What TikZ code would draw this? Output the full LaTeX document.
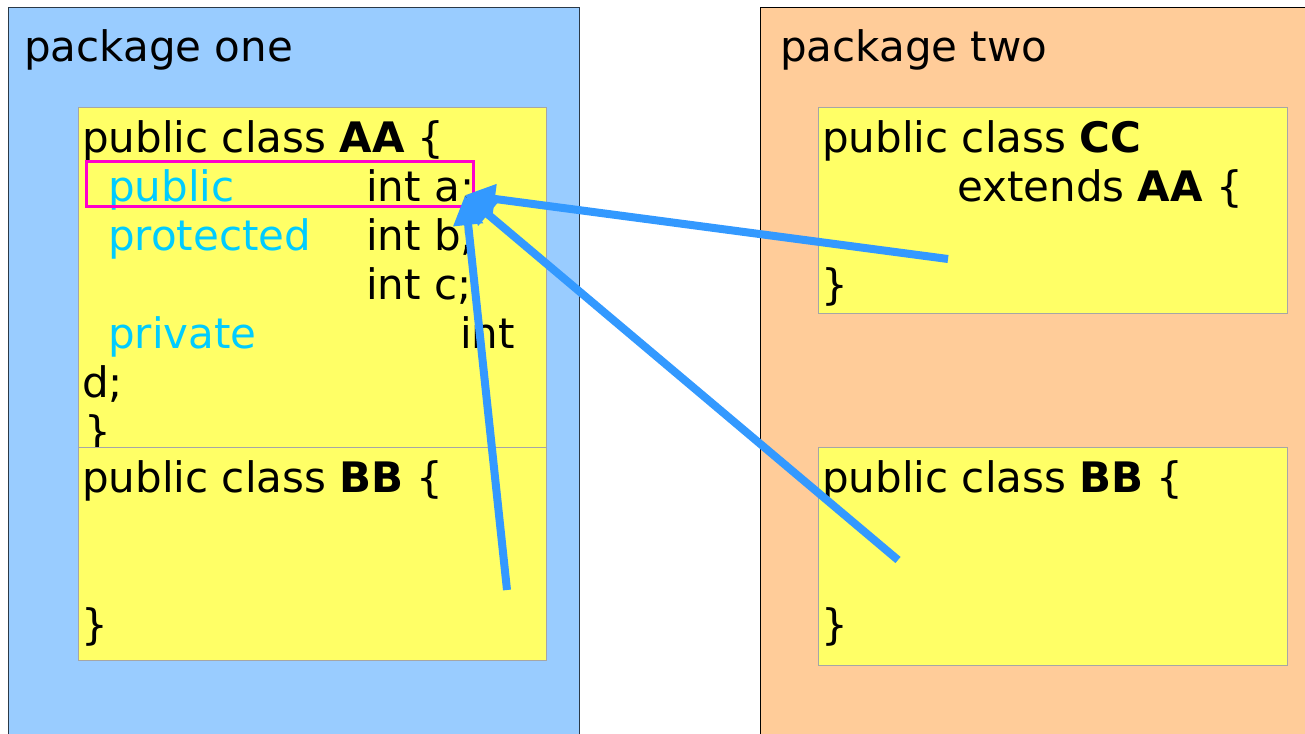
\documentclass[tikz,border=0pt]{standalone}
\usepackage{fontspec}
\setmainfont{DejaVu Sans}
\usetikzlibrary{arrows.meta}

\definecolor{pkgone}{HTML}{99CCFF}
\definecolor{pkgtwo}{HTML}{FFCC99}
\definecolor{classfill}{HTML}{FFFF66}
\definecolor{modifier}{HTML}{00CCFF}
\definecolor{fieldmark}{HTML}{FF00CC}
\definecolor{accessline}{HTML}{3399FF}

% yellow class box: name, x, y (top left), width, height
\newcommand{\ClassBox}[5]{%
    \node[classbox, minimum width=#4pt, minimum height=#5pt] (#1) at (#2,#3) {};
}

\begin{document}
\begin{tikzpicture}[x=1pt,y=-1pt,
    package/.style={draw, line width=1.2pt, anchor=north west, inner sep=0pt},
    classbox/.style={draw=black!35, line width=1pt, fill=classfill, anchor=north west, inner sep=0pt},
    code/.style={anchor=base west, inner sep=0pt, font=\fontsize{42}{49}\selectfont},
    mod/.style={code, text=modifier},
    fieldbox/.style={draw=fieldmark, line width=3pt, anchor=north west, inner sep=0pt},
    access/.style={draw=accessline, line width=8pt, -{Triangle[length=30pt,width=28pt]}}
]
    \useasboundingbox (0,0) rectangle (1305,733);

    % the two packages
    \node[package, draw=black!60!pkgone!70!black, fill=pkgone, minimum width=571pt, minimum height=740pt] (one) at (8,7) {};
    \node[package, draw=black, fill=pkgtwo, minimum width=560pt, minimum height=740pt] (two) at (760,7) {};
    \node[code] (oneName) at (24,62) {package one};
    \node[code] (twoName) at (780,62) {package two};

    % class AA
    \ClassBox{AA}{78}{107}{468}{340}
    \node[code] (aaHead) at (82,152) {public class \textbf{AA} \{};
    \node[mod]  (aaPub) at (108,201) {public};
    \node[code] (aaA) at (366,201) {int a;};
    \node[mod]  (aaProt) at (108,250) {protected};
    \node[code] (aaB) at (366,250) {int b;};
    \node[code] (aaC) at (366,299) {int c;};
    \node[mod]  (aaPriv) at (108,348) {private};
    \node[code] (aaD) at (460,348) {int};
    \node[code] (aaD2) at (82,397) {d;};
    \node[code] (aaEnd) at (84,446) {\}};

    % class BB in package one
    \ClassBox{BBone}{78}{447}{468}{213}
    \node[code] (bbOneHead) at (82,492) {public class \textbf{BB} \{};
    \node[code] (bbOneEnd) at (81,639) {\}};

    % class CC in package two
    \ClassBox{CC}{818}{107}{469}{206}
    \node[code] (ccHead) at (822,152) {public class \textbf{CC}};
    \node[code] (ccExt) at (957,201) {extends \textbf{AA} \{};
    \node[code] (ccEnd) at (821,299) {\}};

    % class BB in package two
    \ClassBox{BBtwo}{818}{447}{469}{218}
    \node[code] (bbTwoHead) at (822,492) {public class \textbf{BB} \{};
    \node[code] (bbTwoEnd) at (821,639) {\}};

    % the public field
    \node[fieldbox, minimum width=387pt, minimum height=45pt] (fieldA) at (85,160) {};

    % who reaches int a
    \coordinate (tipA) at (465,195);
    \coordinate (fromCC) at (948,259);
    \coordinate (fromBBtwo) at (898,560);
    \coordinate (fromBBone) at (507,590);
    \draw[access] (fromCC) -- (tipA);
    \draw[access] (fromBBtwo) -- (tipA);
    \draw[access] (fromBBone) -- (tipA);
\end{tikzpicture}
\end{document}
